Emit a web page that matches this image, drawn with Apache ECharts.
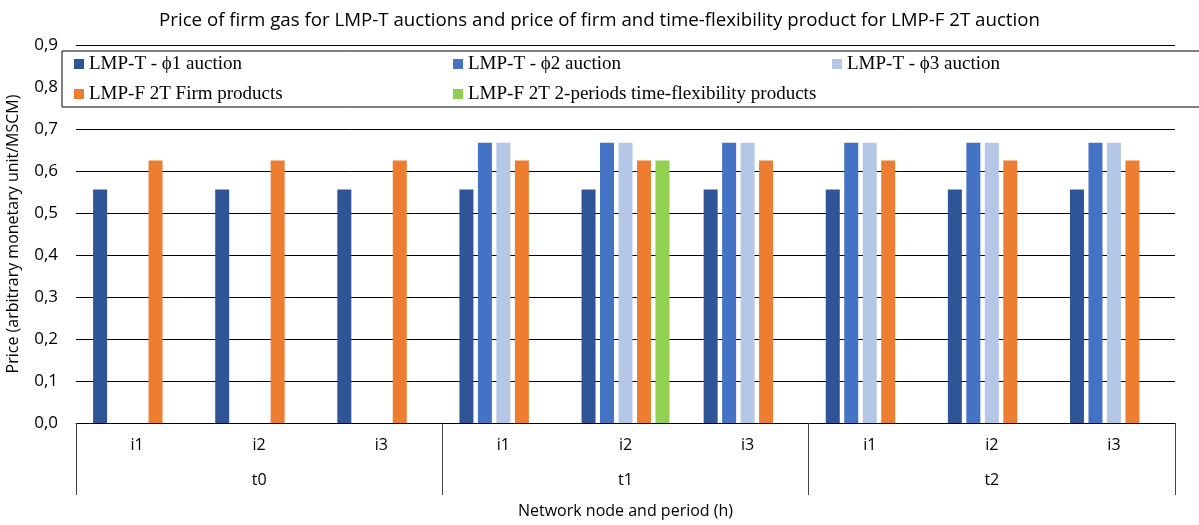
<!DOCTYPE html>
<html>
<head>
<meta charset="utf-8">
<script src="https://cdn.jsdelivr.net/npm/echarts@6/dist/echarts.min.js"></script>
<style>
html,body{margin:0;padding:0;background:#fff}
#main{width:1199px;height:525px}
</style>
</head>
<body>
<div id="main"></div>
<script>
var nodes=['i1','i2','i3','i1','i2','i3','i1','i2','i3']
var periods=['t0','t1','t2']
var yTicks=[0,0.1,0.2,0.3,0.4,0.5,0.6,0.7,0.8,0.9]

var phi1=[0.556,0.556,0.556,0.556,0.556,0.556,0.556,0.556,0.556]
var phi2=[null,null,null,0.667,0.667,0.667,0.667,0.667,0.667]
var phi3=[null,null,null,0.667,0.667,0.667,0.667,0.667,0.667]
var firm=[0.625,0.625,0.625,0.625,0.625,0.625,0.625,0.625,0.625]
var flex=[null,null,null,null,0.625,null,null,null,null]

var names=['LMP-T - ϕ1 auction','LMP-T - ϕ2 auction','LMP-T - ϕ3 auction','LMP-F 2T Firm products','LMP-F 2T 2-periods time-flexibility products']
var colors=['#2F5597','#4472C4','#B4C7E7','#ED7D31','#92D050']
var values=[phi1,phi2,phi3,firm,flex]

var myChart=echarts.init(document.getElementById('main'))
var axisFont='"Open Sans", sans-serif'

var series=values.map(function(v,i){
    return {
        name:names[i],
        type:'bar',
        data:v,
        itemStyle:{color:colors[i]},
        barGap:'32%',
        barCategoryGap:'28%'
    }
})

var option={
    animation:false,
    color:colors,
    title:{
        text:'Price of firm gas for LMP-T auctions and price of firm and time-flexibility product for LMP-F 2T auction',
        left:'center',
        top:6,
        textStyle:{fontFamily:axisFont,fontSize:18.7,fontWeight:'normal',color:'#000'}
    },
    legend:{
        left:62,
        top:51,
        width:1160,
        padding:[2,12,2,12],
        itemGap:8,
        itemWidth:10,
        itemHeight:10,
        icon:'rect',
        backgroundColor:'#fff',
        borderColor:'#000',
        borderWidth:1,
        textStyle:{fontFamily:'"Liberation Serif", serif',fontSize:19,color:'#000',width:356,lineHeight:22},
        data:names
    },
    grid:{left:76,right:24,top:45,bottom:102,outerBoundsMode:'none',containLabel:false},
    xAxis:[{
        type:'category',
        data:nodes,
        axisLine:{lineStyle:{color:'#000'}},
        axisTick:{show:false},
        axisLabel:{fontFamily:axisFont,fontSize:16,color:'#000',margin:14}
    },{
        type:'category',
        data:periods,
        position:'bottom',
        axisLine:{show:false},
        axisTick:{show:true,length:72,lineStyle:{color:'#444'}},
        axisLabel:{fontFamily:axisFont,fontSize:16,color:'#000',margin:49},
        name:'Network node and period (h)',
        nameLocation:'middle',
        nameGap:80,
        nameTextStyle:{fontFamily:axisFont,fontSize:16,color:'#000'}
    }],
    yAxis:{
        type:'value',
        min:0,
        max:0.9,
        interval:0.1,
        name:'Price (arbitrary monetary unit/MSCM)',
        nameLocation:'middle',
        nameGap:55,
        nameTextStyle:{fontFamily:axisFont,fontSize:16,color:'#000'},
        axisLine:{show:false},
        axisTick:{show:false},
        axisLabel:{
            fontFamily:axisFont,fontSize:17,color:'#000',margin:18,
            formatter:function(v){return v.toFixed(1).replace('.',',')}
        },
        splitLine:{lineStyle:{color:'#000',width:1}}
    },
    series:series
}
myChart.setOption(option)
</script>
</body>
</html>
